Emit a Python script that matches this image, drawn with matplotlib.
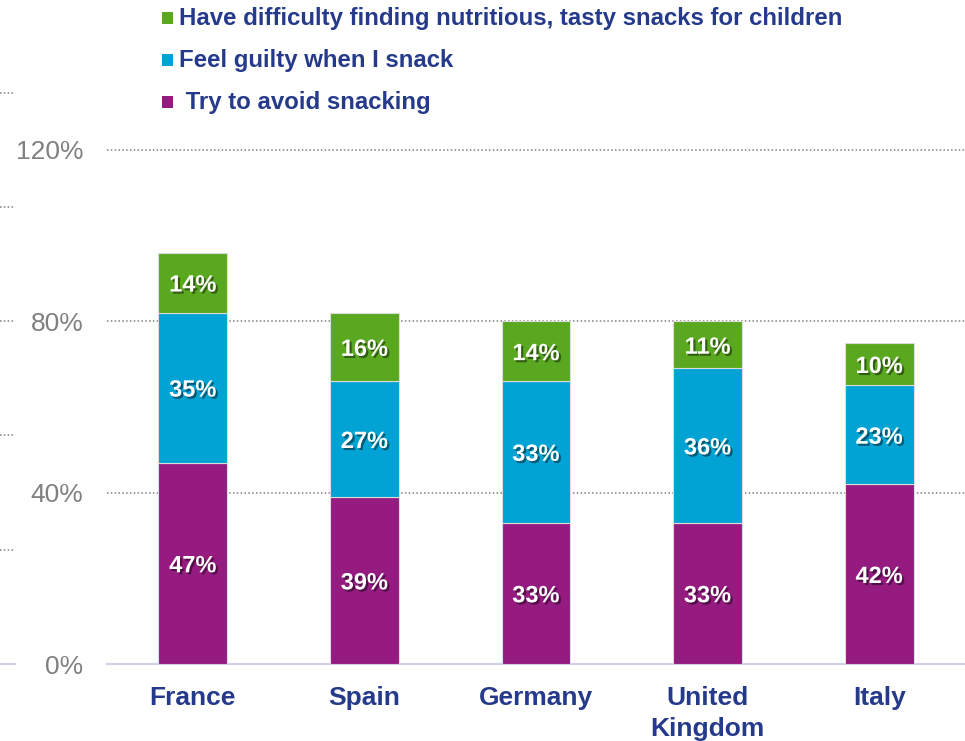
import matplotlib as mpl
import matplotlib.pyplot as plt
import matplotlib.patheffects as pe
from matplotlib.lines import Line2D
from matplotlib.patches import Rectangle
from matplotlib.transforms import blended_transform_factory
import numpy as np

mpl.rcParams.update({
    "font.family": "sans-serif",
    "font.sans-serif": ["Liberation Sans", "Arial", "DejaVu Sans"],
})

countries = ["France", "Spain", "Germany", "United\nKingdom", "Italy"]
avoid = [47, 39, 33, 33, 42]
guilty = [35, 27, 33, 36, 23]
difficulty = [14, 16, 14, 11, 10]
series_names = [
    "Have difficulty finding nutritious, tasty snacks for children",
    "Feel guilty when I snack",
    " Try to avoid snacking",
]
yticks = [0, 40, 80, 120]
ghost_ticks = [80 / 3 * k for k in range(1, 6)]

C_AVOID = "#951B81"
C_GUILTY = "#00A3D3"
C_DIFF = "#5AA820"
NAVY = "#253A8A"
GRAY = "#808080"

fig = plt.figure(figsize=(9.65, 7.41), dpi=100)
ax = fig.add_axes([107 / 965, 1 - 664 / 741, 1 - 107 / 965, (664 - 64) / 741])

x = np.arange(len(countries))
w = 0.4
kw = dict(width=w, edgecolor="#dcdcdc", linewidth=0.8, zorder=3)
b1 = ax.bar(x, avoid, color=C_AVOID, **kw)
b2 = ax.bar(x, guilty, bottom=avoid, color=C_GUILTY, **kw)
b3 = ax.bar(x, difficulty, bottom=np.add(avoid, guilty), color=C_DIFF, **kw)

shadow = [pe.withSimplePatchShadow(offset=(1.5, -1.5), shadow_rgbFace="black", alpha=0.45)]
for bars, vals in ((b1, avoid), (b2, guilty), (b3, difficulty)):
    for rect, v in zip(bars, vals):
        ax.text(rect.get_x() + rect.get_width() / 2, rect.get_y() + rect.get_height() / 2,
                f"{v}%", ha="center", va="center_baseline", color="white", fontsize=17,
                fontweight="bold", path_effects=shadow, zorder=5)

ax.set_xlim(-0.5, 4.5)
ax.set_ylim(0, 140)
ax.set_yticks(yticks)
ax.set_yticklabels([f"{t}%" for t in yticks], color=GRAY, fontsize=19)
ax.tick_params(axis="y", length=0, pad=17)
ax.set_xticks(x)
ax.set_xticklabels(countries, color=NAVY, fontsize=19, fontweight="bold", linespacing=1.35)
ax.tick_params(axis="x", length=0, pad=16)
for s in ("top", "right", "left"):
    ax.spines[s].set_visible(False)
ax.spines["bottom"].set_color("#D0D0EA")
ax.spines["bottom"].set_linewidth(1.5)
for t in yticks[1:]:
    ax.axhline(t, color="#7F7F7F", lw=1.1, ls=(0, (1, 1.5)), zorder=1)

# stray tick marks at the left edge
tr = blended_transform_factory(fig.transFigure, ax.transData)
for t in ghost_ticks:
    fig.add_artist(Line2D([0, 15 / 965], [t, t], transform=tr, color="#7F7F7F",
                          lw=1.1, ls=(0, (1, 1.5))))
fig.add_artist(Line2D([0, 15 / 965], [0, 0], transform=tr, color="#D0D0EA", lw=1.5))

# legend
rows = [18, 60, 102]
colors = [C_DIFF, C_GUILTY, C_AVOID]
for name, col, y in zip(series_names, colors, rows):
    fig.add_artist(Rectangle((162 / 965, 1 - (y + 5.5) / 741), 11 / 965, 11 / 741,
                             transform=fig.transFigure, facecolor=col, edgecolor="none"))
    fig.text(179 / 965, 1 - (y + 1) / 741, name, ha="left", va="center",
             color=NAVY, fontsize=17.3, fontweight="bold")

fig.savefig("out.png", dpi=100)
